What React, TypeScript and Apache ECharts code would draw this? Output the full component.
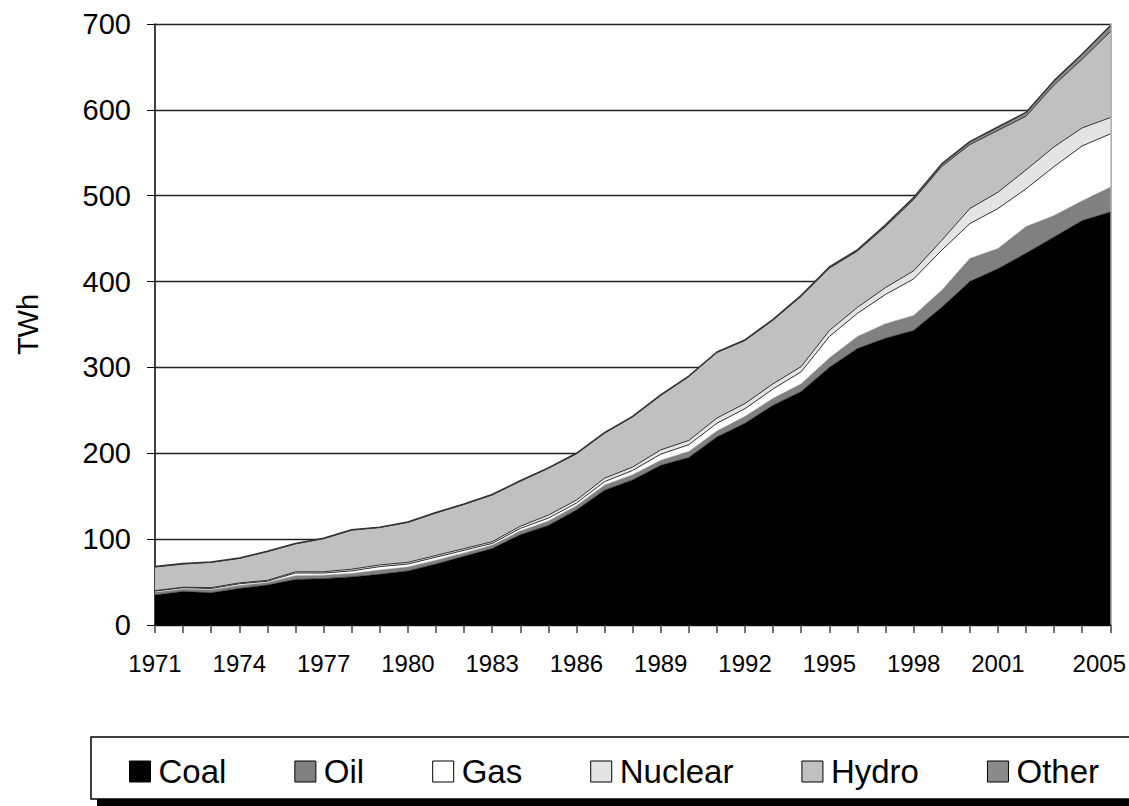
import React, { useEffect, useRef } from "react";
import * as echarts from "echarts";

const years = [
  "1971", "1972", "1973", "1974", "1975", "1976", "1977", "1978", "1979", "1980",
  "1981", "1982", "1983", "1984", "1985", "1986", "1987", "1988", "1989", "1990",
  "1991", "1992", "1993", "1994", "1995", "1996", "1997", "1998", "1999", "2000",
  "2001", "2002", "2003", "2004", "2005",
];

const coal = [35, 39, 37.5, 42.5, 46.5, 53, 54, 56, 59, 63, 71, 80, 89, 105, 116, 134, 157, 169, 186, 195, 219, 235, 256, 272, 300, 322, 334, 343, 370, 400, 415, 433, 452, 471, 481];
const oil = [3, 3, 3.5, 3.5, 3, 4.5, 4, 4, 5, 4.5, 4.5, 4, 4, 4.5, 5, 5, 6, 6, 6, 7, 7, 8, 8, 9, 11, 14, 17, 17.5, 20, 27, 23.5, 31, 25, 23, 29];
const gas = [1.5, 1.5, 1.5, 2, 1.5, 3, 2.5, 3, 4, 3.5, 3.5, 3, 2, 3, 3.5, 3, 4, 5, 7, 8, 9, 9, 11, 14, 25, 27, 34, 42.5, 46.5, 40.5, 46.5, 44, 57, 64, 62];
const nuclear = [0.5, 0.5, 1, 1, 1, 1.5, 1.5, 2, 2, 2, 2, 2, 2, 2.5, 3.5, 3.5, 4, 4, 5, 5, 6, 6, 6, 6, 7, 7, 8, 9.5, 11.5, 17.5, 19, 22, 23, 21, 19];
const hydro = [27.5, 27, 29.5, 28.5, 33.5, 32.5, 38.5, 45.5, 43.5, 46.5, 49.5, 51.5, 54.5, 52.5, 54.5, 54, 52.5, 58.5, 63.5, 74.5, 76.5, 73.5, 74.3, 82, 72.5, 65.5, 71, 83, 86, 74.5, 72, 62.5, 72, 80, 100];
const other = [0.5, 0.5, 0.5, 0.5, 0.5, 0.5, 0.5, 0.5, 0.5, 0.5, 0.5, 0.5, 0.5, 0.5, 0.5, 0.5, 0.5, 0.5, 0.5, 0.5, 0.5, 0.5, 0.7, 1, 1.5, 1.5, 2, 2.5, 3, 3.5, 4, 4.5, 5, 6, 7];

const yTicks = [0, 100, 200, 300, 400, 500, 600, 700];

export default function App() {
  const ref = useRef<HTMLDivElement>(null);
  useEffect(() => {
    document.body.style.margin = "0";
    const chart = echarts.init(ref.current!, null, { renderer: "svg" });
    const font = "'Liberation Sans', Arial, Helvetica, sans-serif";
    const mk = (name: string, data: number[], color: string, lineColor: string, lineWidth: number) => ({
      name,
      type: "line",
      stack: "total",
      data,
      color,
      symbol: "none",
      showSymbol: false,
      lineStyle: { color: lineColor, width: lineWidth },
      areaStyle: { color, opacity: 1 },
      itemStyle: { color },
      emphasis: { disabled: true },
      yAxisIndex: 0,
    });
    const series = [
      mk("Coal", coal, "#000000", "#000000", 0.5),
      mk("Oil", oil, "#808080", "#808080", 0.5),
      mk("Gas", gas, "#ffffff", "#333333", 1),
      mk("Nuclear", nuclear, "#e4e4e4", "#333333", 1),
      mk("Hydro", hydro, "#c0c0c0", "#333333", 1),
      mk("Other", other, "#8a8a8a", "#333333", 1.5),
    ];
    const legendColors: Record<string, string> = {
      Coal: "#000000", Oil: "#808080", Gas: "#ffffff", Nuclear: "#e4e4e4", Hydro: "#c0c0c0", Other: "#8a8a8a",
    };
    chart.setOption({
      animation: false,
      backgroundColor: "#ffffff",
      grid: { left: 155, right: 12, top: 24, bottom: 181, containLabel: false },
      xAxis: {
        type: "category",
        data: years,
        boundaryGap: false,
        axisLine: { show: true, lineStyle: { color: "#000", width: 1.5 } },
        axisTick: { show: true, interval: 0, length: 8, lineStyle: { color: "#444", width: 1.5 } },
        axisLabel: {
          interval: (i: number) => (i % 3 === 0 && i <= 30) || i === 34,
          fontSize: 24,
          fontFamily: font,
          color: "#000",
          margin: 26,
          formatter: (v: string, i: number) => (i === 34 ? `{last|${v}}` : v),
          rich: { last: { fontSize: 24, fontFamily: font, color: "#000", padding: [0, 22, 6, 0] } },
        },
        splitLine: { show: false },
      },
      yAxis: [
        {
          type: "value",
          min: yTicks[0],
          max: yTicks[yTicks.length - 1],
          interval: 100,
          axisLine: { show: true, lineStyle: { color: "#000", width: 1.5 } },
          axisTick: { show: true, length: 8, lineStyle: { color: "#000" } },
          axisLabel: { fontSize: 29, fontFamily: font, color: "#000", margin: 24 },
          splitLine: { show: true, lineStyle: { color: "#222", width: 1.3 } },
          name: "TWh",
          nameLocation: "middle",
          nameGap: 113,
          nameRotate: 90,
          nameTextStyle: { fontSize: 29, fontFamily: font, color: "#000" },
        },
        {
          type: "value",
          position: "right",
          min: 0,
          max: 700,
          interval: 100,
          axisLine: { show: true, lineStyle: { color: "#999", width: 1.5 } },
          axisTick: { show: false },
          axisLabel: { show: false },
          splitLine: { show: false },
        },
      ],
      legend: {
        left: 124,
        top: 750,
        icon: "rect",
        itemWidth: 21,
        itemHeight: 21,
        itemGap: 68,
        selectedMode: false,
        textStyle: { fontSize: 33, fontFamily: font, color: "#000", padding: [0, 0, 0, 3] },
        data: Object.keys(legendColors).map((n) => ({
          name: n,
          itemStyle: { color: legendColors[n], borderColor: "#000", borderWidth: 1 },
        })),
      },
      graphic: [
        { type: "rect", z: 0, shape: { x: 97, y: 743, width: 1040, height: 63 }, style: { fill: "#000" } },
        { type: "rect", z: 1, shape: { x: 91, y: 737, width: 1045, height: 62 }, style: { fill: "#fff", stroke: "#000", lineWidth: 1.5 } },
      ],
      series,
    });
    return () => chart.dispose();
  }, []);
  return <div ref={ref} style={{ width: 1129, height: 806 }} />;
}
